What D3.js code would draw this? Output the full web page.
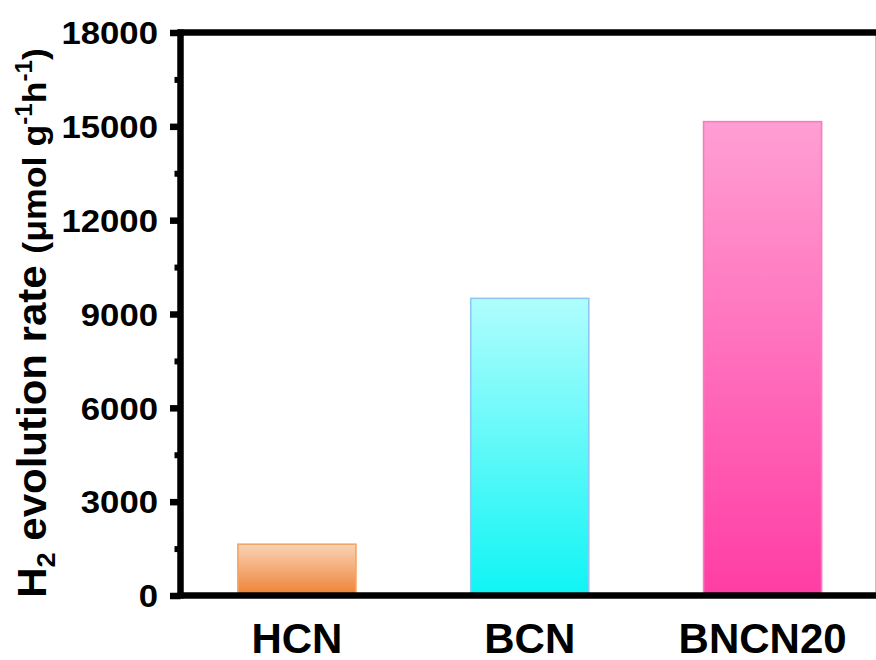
<!DOCTYPE html>
<html>
<head>
<meta charset="utf-8">
<script src="https://cdn.jsdelivr.net/npm/d3@7"></script>
<style>
  html, body { margin: 0; padding: 0; background: #fff; }
  svg { display: block; }
  text { font-family: "Liberation Sans", Arial, sans-serif; font-weight: bold; fill: #000; }
</style>
</head>
<body>
<svg id="chart" width="876" height="660"></svg>
<script>
// H2 evolution rates of the three catalysts (μmol g-1 h-1)
const categories = ["HCN", "BCN", "BNCN20"];
const rates = [1640, 9500, 15150];
const yTicks = [0, 3000, 6000, 9000, 12000, 15000, 18000];
const yMinorTicks = [1500, 4500, 7500, 10500, 13500, 16500];

// bar fill gradients: [top colour, bottom colour, outline]
const barTop = ["#f9d3b5", "#b0fdfd", "#ff9fd3"];
const barBottom = ["#ee8233", "#0ff4f4", "#ff3da4"];
const barStroke = ["#f4a466", "#8cc8f2", "#f27fc2"];

const svg = d3.select("#chart");
const margin = { left: 180.5, right: 879, top: 32.5, bottom: 595.5 };

const x = d3.scaleBand()
  .domain(categories)
  .range([margin.left, margin.right])
  .paddingInner(0.493)
  .paddingOuter(0.2465);

const y = d3.scaleLinear()
  .domain([0, 18000])
  .range([margin.bottom, margin.top]);

// gradients
const defs = svg.append("defs");
categories.forEach((c, i) => {
  const g = defs.append("linearGradient")
    .attr("id", "grad" + i)
    .attr("x1", 0).attr("y1", 0).attr("x2", 0).attr("y2", 1);
  g.append("stop").attr("offset", "0%").attr("stop-color", barTop[i]);
  g.append("stop").attr("offset", "100%").attr("stop-color", barBottom[i]);
});

// bars
svg.append("g")
  .selectAll("rect")
  .data(categories)
  .join("rect")
  .attr("x", d => x(d))
  .attr("y", (d, i) => y(rates[i]))
  .attr("width", x.bandwidth())
  .attr("height", (d, i) => y(0) - y(rates[i]))
  .attr("fill", (d, i) => `url(#grad${i})`)
  .attr("stroke", (d, i) => barStroke[i])
  .attr("stroke-width", 1.6);

// left axis: major ticks with labels
const yAxis = svg.append("g")
  .attr("transform", `translate(${margin.left},0)`)
  .call(d3.axisLeft(y).tickValues(yTicks).tickSize(10.5).tickPadding(12).tickFormat(d3.format("d")));
yAxis.select(".domain").remove();
yAxis.selectAll(".tick line").attr("stroke", "#000").attr("stroke-width", 6.5);
yAxis.selectAll(".tick text")
  .style("font-size", "31px")
  .attr("dy", "0.36em")
  .each(function () {
    const w = this.getComputedTextLength();
    d3.select(this).attr("textLength", w * 1.12).attr("lengthAdjust", "spacingAndGlyphs");
  });

// minor ticks
const yMinor = svg.append("g")
  .attr("transform", `translate(${margin.left},0)`)
  .call(d3.axisLeft(y).tickValues(yMinorTicks).tickSize(6).tickFormat(""));
yMinor.select(".domain").remove();
yMinor.selectAll(".tick line").attr("stroke", "#000").attr("stroke-width", 6);

// frame lines
const frame = svg.append("g").attr("stroke", "#000").attr("stroke-width", 6.5).attr("fill", "none");
frame.append("line").attr("x1", margin.left).attr("x2", margin.left).attr("y1", margin.top - 3).attr("y2", margin.bottom + 3);
frame.append("line").attr("x1", margin.left - 3).attr("x2", margin.right + 3).attr("y1", margin.bottom).attr("y2", margin.bottom);
frame.append("line").attr("x1", margin.left - 3).attr("x2", margin.right + 3).attr("y1", margin.top).attr("y2", margin.top);
frame.append("line").attr("x1", margin.right).attr("x2", margin.right).attr("y1", margin.top - 3).attr("y2", margin.bottom + 3);

// category labels
const xAxis = svg.append("g")
  .attr("transform", `translate(0,${margin.bottom})`)
  .call(d3.axisBottom(x).tickSize(0).tickPadding(0));
xAxis.select(".domain").remove();
xAxis.selectAll(".tick text")
  .style("font-size", "42px")
  .attr("y", 57)
  .attr("dy", 0);

// y-axis title (slightly stretched along its length)
const title = svg.append("text")
  .attr("transform", "translate(46,323) rotate(-90) scale(1.05,1)")
  .attr("text-anchor", "middle")
  .style("font-size", "40px");
title.append("tspan").text("H");
title.append("tspan").text("2").attr("dy", 9).style("font-size", "26px");
title.append("tspan").text(" evolution rate ").attr("dy", -9);
title.append("tspan").text("(μmol g").style("font-size", "34px");
title.append("tspan").text("-1").attr("dy", -14).style("font-size", "23px");
title.append("tspan").text("h").attr("dy", 14).style("font-size", "34px");
title.append("tspan").text("-1").attr("dy", -14).style("font-size", "23px");
title.append("tspan").text(")").attr("dy", 14).style("font-size", "34px");
</script>
</body>
</html>
